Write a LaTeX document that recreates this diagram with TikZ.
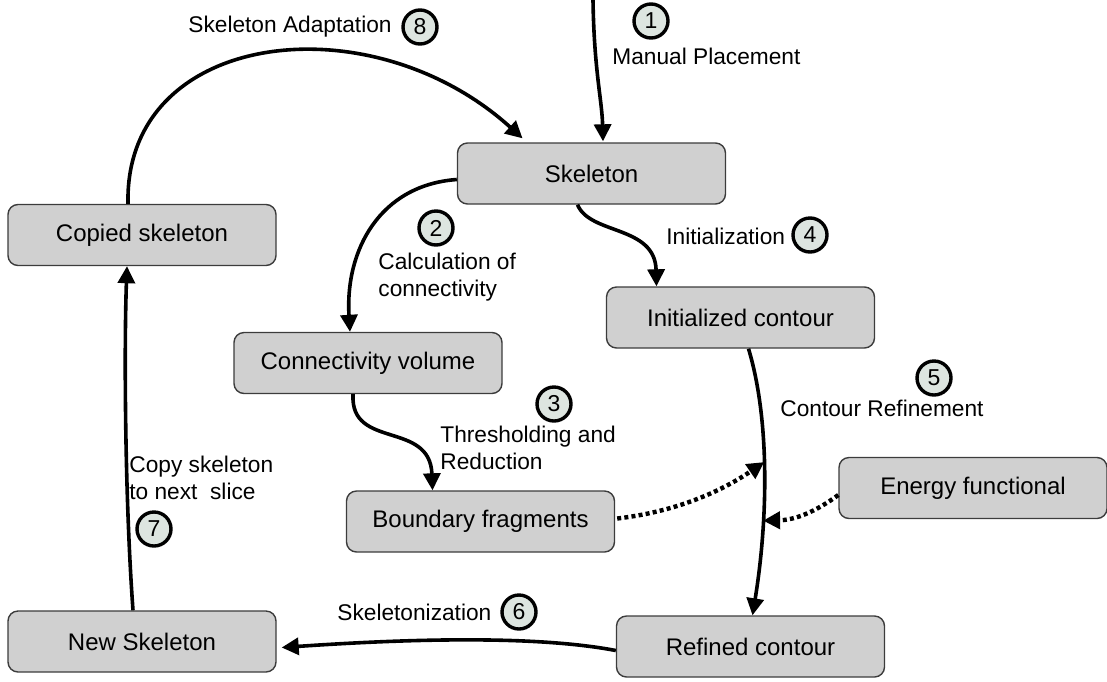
\documentclass[tikz,border=0pt]{standalone}
\usepackage{fontspec}
\setmainfont{Liberation Sans}
\usetikzlibrary{arrows.meta,calc}
\definecolor{boxgray}{RGB}{208,208,208}
\definecolor{boxline}{RGB}{60,60,60}
\definecolor{numfill}{RGB}{221,229,224}
\tikzset{
  box/.style={draw=boxline, line width=0.7pt, fill=boxgray, rounded corners=5pt,
    minimum width=134pt, minimum height=30.5pt, inner sep=0pt,
    font=\fontsize{12}{14}\selectfont},
  num/.style={circle, draw=black, line width=1.7pt, fill=numfill, minimum size=17pt,
    inner sep=0pt, font=\fontsize{11.5}{13}\selectfont},
  lbl/.style={anchor=west, align=left, inner sep=0pt, font=\fontsize{11.35}{13.2}\selectfont},
  flow/.style={line width=1.8pt, -{Triangle[length=8.5pt,width=8.5pt]}},
  dots/.style={line width=2.2pt, dash pattern=on 2pt off 1.6pt, -{Triangle[length=8.5pt,width=8.5pt]}}
}
\begin{document}
\begin{tikzpicture}[x=0.5pt,y=-0.5pt]
\useasboundingbox (0,0) rectangle (1107,681);
% boxes
\node[box] (skel) at (591.5,173.5) {Skeleton};
\node[box] (copied) at (142,235) {Copied skeleton};
\node[box] (conn) at (368,363) {Connectivity volume};
\node[box] (init) at (740.5,317.5) {Initialized contour};
\node[box] (bound) at (480.5,521.5) {Boundary fragments};
\node[box] (energy) at (973,488) {Energy functional};
\node[box] (newsk) at (142,641.5) {New Skeleton};
\node[box] (refined) at (750.5,646.5) {Refined contour};
% numbers
\node[num] (n1) at (651,21) {1};
\node[num] (n2) at (436,228) {2};
\node[num] (n3) at (554,404) {3};
\node[num] (n4) at (810,235) {4};
\node[num] (n5) at (934,378) {5};
\node[num] (n6) at (519,612) {6};
\node[num] (n7) at (154,529) {7};
\node[num] (n8) at (420,27) {8};
% labels
\node[lbl] (l1) at (612,56) {Manual Placement};
\node[lbl] (l8) at (188,27) {Skeleton Adaptation};
\node[lbl] (l2) at (378,277) {Calculation of\\connectivity};
\node[lbl] (l4) at (666,236) {Initialization};
\node[lbl] (l5) at (780,408) {Contour Refinement};
\node[lbl] (l3) at (440,448) {Thresholding and\\Reduction};
\node[lbl] (l7) at (129,478) {Copy skeleton\\to next\ \ slice};
\node[lbl] (l6) at (337,612) {Skeletonization};
% connectors
\coordinate (top) at (593,0);
\draw[flow] (top) .. controls (594,70) and (602,100) .. ($(skel.north)+(11.5,-1)$);
\draw[flow] ($(copied.north)+(-14,0)$) .. controls (124,30) and (370,0) .. ($(skel.north)+(-69,-4)$);
\draw[flow] ($(skel.west)+(0,6)$) .. controls (380,185) and (345,250) .. ($(conn.north)+(-18,0)$);
\draw[flow] ($(skel.south)+(-14,0)$) .. controls (590,235) and (655,225) .. ($(init.north)+(-84,0)$);
\draw[flow] ($(init.south)+(8,0)$) .. controls (770,420) and (768,520) ..
   coordinate[pos=0.46] (p1) coordinate[pos=0.67] (p2) ($(refined.north)+(2,0)$);
\draw[flow] ($(conn.south)+(-15,0)$) .. controls (350,450) and (430,420) .. ($(bound.north)+(-48,0)$);
\draw[dots] ($(bound.east)+(2,-3)$) .. controls (690,510) and (735,482) .. (p1);
\draw[dots] ($(energy.west)+(0,7)$) .. controls (815,512) and (795,520) .. (p2);
\draw[flow] ($(refined.west)+(0,4)$) .. controls (540,636) and (420,638) .. ($(newsk.east)+(5,6)$);
\draw[flow] ($(newsk.north)+(-9,0)$) .. controls (125,500) and (124,350) .. ($(copied.south)+(-15,0)$);
\end{tikzpicture}
\end{document}
